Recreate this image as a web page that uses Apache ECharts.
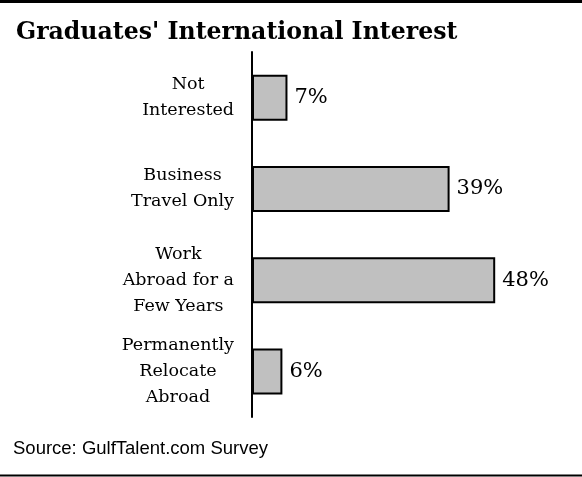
<!DOCTYPE html>
<html>
<head>
<meta charset="utf-8">
<script src="https://cdn.jsdelivr.net/npm/echarts@6/dist/echarts.min.js"></script>
<style>html,body{margin:0;padding:0;background:#fff}#c{width:582px;height:477px}</style>
</head>
<body>
<div id="c"></div>
<script>
const categories = ['Not\nInterested', 'Business\nTravel Only', 'Work\nAbroad for a\nFew Years', 'Permanently\nRelocate\nAbroad'];
const values = [7, 39, 48, 6];
const titleText = "Graduates' International Interest";
const sourceText = 'Source: GulfTalent.com Survey';

const chart = echarts.init(document.getElementById('c'), null, {renderer: 'canvas'});
chart.setOption({
  animation: false,
  backgroundColor: '#fff',
  title: {
    text: titleText,
    left: 16, top: 21, padding: 0,
    textStyle: {fontFamily: 'DejaVu Serif', fontWeight: 'bold', fontSize: 23.6, color: '#000'}
  },
  grid: {left: 252, right: 26, top: 52, bottom: 60, containLabel: false},
  xAxis: {type: 'value', min: 0, max: 60, show: false},
  yAxis: {
    type: 'category', inverse: true, data: categories,
    axisLine: {show: true, lineStyle: {color: '#000', width: 2}},
    axisTick: {show: false},
    splitLine: {show: false},
    axisLabel: {
      align: 'right', margin: 18, color: '#000',
      fontFamily: 'DejaVu Serif', fontSize: 17.5, lineHeight: 26,
      formatter: function (v) { return v.split('\n').map(function (s) { return '{c|' + s + '}'; }).join('\n'); },
      rich: {c: {align: 'center', fontFamily: 'DejaVu Serif', fontSize: 17.5, lineHeight: 26, color: '#000'}}
    }
  },
  series: [{
    type: 'bar', data: values, barWidth: 46,
    itemStyle: {color: '#c0c0c0', borderColor: '#000', borderWidth: 2},
    label: {show: true, position: 'right', distance: 7, formatter: '{c}%', color: '#000', fontFamily: 'DejaVu Serif', fontSize: 21}
  }],
  graphic: [
    {type: 'rect', shape: {x: 0, y: 0, width: 582, height: 3}, style: {fill: '#000'}},
    {type: 'rect', shape: {x: 0, y: 474.5, width: 582, height: 2}, style: {fill: '#000'}},
    {type: 'text', left: 13, top: 439, style: {text: sourceText, font: '18.5px "Liberation Sans"', fill: '#000'}}
  ]
});
</script>
</body>
</html>
